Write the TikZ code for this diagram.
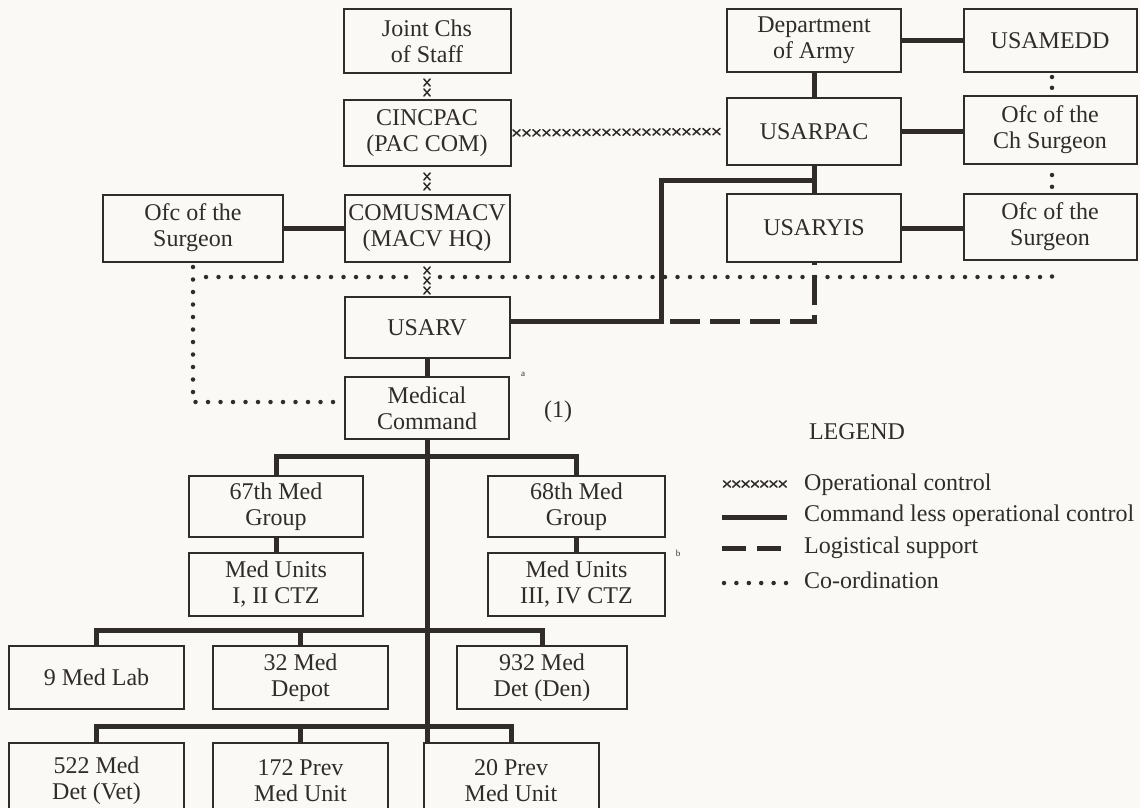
\documentclass[tikz,border=0pt]{standalone}
\usepackage{fontspec}
\setmainfont{Liberation Serif}
\usetikzlibrary{decorations.markings}
\definecolor{ink}{RGB}{48,44,42}
\definecolor{paper}{RGB}{250,249,245}
\begin{document}
\begin{tikzpicture}[x=1pt,y=-1pt,
  box/.style={draw=ink, line width=2pt, inner sep=0pt, align=center, text=ink,
    font=\fontsize{24}{26}\selectfont},
  cmd/.style={draw=ink, line width=5pt},
  logi/.style={draw=ink, line width=5pt, dash pattern=on 30pt off 10pt, dash phase=31pt},
  coord/.style={draw=ink, line width=4.5pt, line cap=round, dash pattern=on 0pt off 12.5pt},
  opc/.style={decoration={markings, mark=between positions #1 with {%
      \draw[ink, line width=1.5pt, line cap=round] (-3.6pt,-3.2pt) -- (3.6pt,3.2pt) (-3.6pt,3.2pt) -- (3.6pt,-3.2pt);}}, decorate},
  lbl/.style={text=ink, font=\fontsize{24}{26}\selectfont, inner sep=0pt},
]
\useasboundingbox (0,0) rectangle (1140,808);
\fill[paper] (0,0) rectangle (1140,808);
\clip (0,0) rectangle (1140,808);

% centre column
\node[box, minimum width=167pt, minimum height=64pt] (jcs) at (427,41) {Joint Chs\\of Staff};
\node[box, minimum width=167pt, minimum height=66pt] (cinc) at (427,133) {CINCPAC\\(PAC COM)};
\node[box, minimum width=165pt, minimum height=67pt] (macv) at (427,228.5) {COMUSMACV\\(MACV HQ)};
\node[box, minimum width=165pt, minimum height=61pt] (usarv) at (427,327.5) {USARV};
\node[box, minimum width=164pt, minimum height=62pt] (medc) at (427,408) {Medical\\Command};
\node[box, minimum width=180pt, minimum height=67pt] (ofcl) at (193,228) {Ofc of the\\Surgeon};

% right columns
\node[box, minimum width=174pt, minimum height=63pt] (dept) at (814,40.5) {Department\\of Army};
\node[box, minimum width=174pt, minimum height=67pt] (usarpac) at (814,131.5) {USARPAC};
\node[box, minimum width=174pt, minimum height=68pt] (yis) at (814,228) {USARYIS};
\node[box, minimum width=173pt, minimum height=63pt] (amedd) at (1050,40.5) {USAMEDD};
\node[box, minimum width=173pt, minimum height=68pt] (ofcch) at (1050,130) {Ofc of the\\Ch Surgeon};
\node[box, minimum width=173pt, minimum height=66pt] (ofcr) at (1050,227) {Ofc of the\\Surgeon};

% lower tree
\node[box, minimum width=174pt, minimum height=61pt] (g67) at (276,506.5) {67th Med\\Group};
\node[box, minimum width=174pt, minimum height=63pt] (u12) at (276,584.5) {Med Units\\I, II CTZ};
\node[box, minimum width=177pt, minimum height=61pt] (g68) at (576.5,506.5) {68th Med\\Group};
\node[box, minimum width=177pt, minimum height=63pt] (u34) at (576.5,584.5) {Med Units\\III, IV CTZ};
\node[box, minimum width=175pt, minimum height=63pt] (lab) at (96.5,677.5) {9 Med Lab};
\node[box, minimum width=175pt, minimum height=63pt] (depot) at (300.5,677.5) {32 Med\\Depot};
\node[box, minimum width=170pt, minimum height=63pt] (den) at (542,677.5) {932 Med\\Det (Den)};
\node[box, minimum width=175pt, minimum height=76pt] (vet) at (96.5,781) {522 Med\\Det (Vet)};
\node[box, minimum width=175pt, minimum height=76pt] (prev172) at (300.5,781) {172 Prev\\Med Unit};
\node[box, minimum width=175pt, minimum height=76pt] (prev20) at (511,781) {20 Prev\\Med Unit};

% notes
\node[lbl] (one) at (558,412) {(1)};
\node[text=ink, font=\fontsize{9}{9}\selectfont, inner sep=0pt] (na) at (523,374) {a};
\node[text=ink, font=\fontsize{9}{9}\selectfont, inner sep=0pt] (nb) at (678,553) {b};

% coordinates
\coordinate (j1) at (661,180);
\coordinate (j2) at (661,321);
\coordinate (bus1) at (427,456);
\coordinate (bus2) at (427,630);
\coordinate (bus3) at (427,726);
\coordinate (c1) at (206,277);
\coordinate (c2) at (412,277);
\coordinate (c3) at (440,277);
\coordinate (c4) at (1052,277);
\coordinate (c5) at (1052,265);
\coordinate (c6) at (193,267);
\coordinate (c7) at (193,402);
\coordinate (c8) at (340,402);
\coordinate (d1) at (1052,77);
\coordinate (d2) at (1052,88);
\coordinate (d3) at (1052,175);
\coordinate (d4) at (1052,187);

% operational control
\path[opc={8.5pt and 19pt step 10pt}] (jcs.south) -- (cinc.north);
\path[opc={9.5pt and 20pt step 10pt}] (cinc.south) -- (macv.north);
\path[opc={7.5pt and 28pt step 10pt}] (macv.south) -- (usarv.north);
\path[opc={5pt and 212pt step 10pt}] (cinc.east) -- (usarpac.west);

% command less operational control
\draw[cmd] (ofcl.east) -- (ofcl.east -| macv.west);
\draw[cmd] (usarv.south) -- (medc.north);
\draw[cmd] (dept.south) -- (usarpac.north);
\draw[cmd] (dept.east) -- (dept.east -| amedd.west);
\draw[cmd] (usarpac.east) -- (usarpac.east -| ofcch.west);
\draw[cmd] (usarpac.south) -- (yis.north);
\draw[cmd] (yis.east) -- (yis.east -| ofcr.west);
\draw[cmd] (usarv.east |- j2) -- (j2) -- (j1) -- (usarpac.south |- j1);
\draw[cmd] (medc.south) -- (medc.south |- prev20.north);
\draw[cmd] (g67.north) |- (bus1) -| (g68.north);
\draw[cmd] (g67.south) -- (u12.north);
\draw[cmd] (g68.south) -- (u34.north);
\draw[cmd] (lab.north) |- (bus2) -| (den.north);
\draw[cmd] (depot.north) -- (depot.north |- bus2);
\draw[cmd] (vet.north) |- (bus3) -| (prev20.north);
\draw[cmd] (prev172.north) -- (prev172.north |- bus3);

% logistical support
\draw[logi] (j2) -- (yis.south |- j2) -- (yis.south);

% co-ordination
\draw[coord] (c6) -- (c7) -- (c8);
\draw[coord] (c1) -- (c2);
\draw[coord] (c3) -- (c4) -- (c5);
\draw[coord, dash pattern=on 0pt off 10.8pt] (d1) -- (d2);
\draw[coord, dash pattern=on 0pt off 11.8pt] (d3) -- (d4);

% legend
\node[lbl] (legend) at (857,432) {LEGEND};
\coordinate (l1a) at (722,484);
\coordinate (l1b) at (787,484);
\coordinate (l2a) at (722,517);
\coordinate (l2b) at (787,517);
\coordinate (l3a) at (722,548);
\coordinate (l3b) at (787,548);
\coordinate (l4a) at (724,583);
\coordinate (l4b) at (787,583);
\path[opc={5pt and 61pt step 9.3pt}] (l1a) -- (l1b);
\draw[cmd] (l2a) -- (l2b);
\draw[draw=ink, line width=5pt, dash pattern=on 24pt off 11pt] (l3a) -- (l3b);
\draw[coord, dash pattern=on 0pt off 12.4pt] (l4a) -- (l4b);
\node[lbl, anchor=west] (t1) at (804,485) {Operational control};
\node[lbl, anchor=west] (t2) at (804,516) {Command less operational control};
\node[lbl, anchor=west] (t3) at (804,548) {Logistical support};
\node[lbl, anchor=west] (t4) at (804,580) {Co-ordination};
\end{tikzpicture}
\end{document}
